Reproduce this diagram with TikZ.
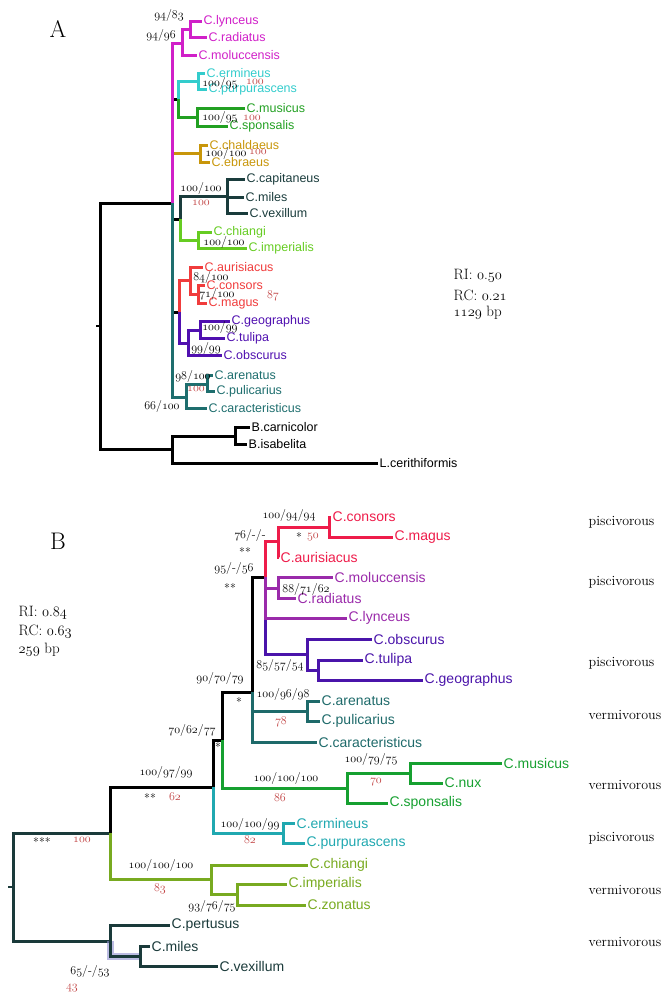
\documentclass[tikz,border=0pt]{standalone}
\usepackage{fontspec}
\newfontfamily\tipfont{Liberation Sans}
\usetikzlibrary{calc}
\definecolor{aMag}{HTML}{D020C8}
\definecolor{aCyan}{HTML}{33CCCC}
\definecolor{aGreen}{HTML}{22A022}
\definecolor{aGold}{HTML}{C8960A}
\definecolor{aSlate}{HTML}{1A3C3C}
\definecolor{aLime}{HTML}{66CC22}
\definecolor{aRed}{HTML}{F03C3C}
\definecolor{aPurp}{HTML}{5010B0}
\definecolor{aTeal}{HTML}{1E6E6E}
\definecolor{bRed}{HTML}{EE1C4A}
\definecolor{bMag}{HTML}{9A2AAA}
\definecolor{bInd}{HTML}{4A14AA}
\definecolor{bTeal}{HTML}{1E6A6A}
\definecolor{bGreen}{HTML}{16A030}
\definecolor{bCyan}{HTML}{20A8B0}
\definecolor{bOlive}{HTML}{78AA20}
\definecolor{bSlate}{HTML}{1A3A3A}
\definecolor{hilite}{HTML}{9090D0}
\definecolor{redNum}{HTML}{C04040}
\newcommand\osn[1]{{\usefont{OML}{cmm}{m}{it}#1}}

\begin{document}
\begin{tikzpicture}[x=1pt,y=-1pt,inner sep=1.5pt,
  br/.style={line width=3pt},
  tipA/.style={anchor=west,font=\tipfont\fontsize{12.5}{14}\selectfont},
  tipB/.style={anchor=west,font=\tipfont\fontsize{14}{16}\selectfont},
  bs/.style={font=\fontsize{12}{14}\selectfont},
  rn/.style={bs,text=redNum},
  diet/.style={anchor=west,font=\fontsize{14}{16}\selectfont},
  stat/.style={anchor=west,font=\fontsize{15}{17}\selectfont}]
\useasboundingbox (0,0) rectangle (667,999);

% ---------- panel A ----------
\node[font=\fontsize{24}{28}\selectfont] (lblA) at (58,29) {A};
\coordinate (rA) at (100,326);
\coordinate (rAt) at (96,326);
\coordinate (nI) at (172,203);
\coordinate (nO) at (172,449);
\coordinate (nMa) at (182,43);
\coordinate (nLR) at (190,29);
\coordinate (nCG) at (178,99);
\coordinate (nCy) at (198,81);
\coordinate (nGr) at (197,117);
\coordinate (nGo) at (200,153);
\coordinate (nSL) at (180,219);
\coordinate (nSl) at (227,196);
\coordinate (nLi) at (198,240);
\coordinate (nRP) at (179,312);
\coordinate (nRe) at (190,280);
\coordinate (nCM) at (198,294);
\coordinate (nPu) at (188,343);
\coordinate (nGT) at (200,330);
\coordinate (nTe) at (186,397);
\coordinate (nAP) at (207,384);
\coordinate (nB) at (235,436);

\node[tipA,aMag] (lync) at (202,21) {C.lynceus};
\node[tipA,aMag] (radi) at (207,37) {C.radiatus};
\node[tipA,aMag] (molu) at (197,55) {C.moluccensis};
\node[tipA,aCyan] (ermi) at (205,73) {C.ermineus};
\node[tipA,aCyan] (purp) at (207,89) {C.purpurascens};
\node[tipA,aGreen] (musi) at (245,108) {C.musicus};
\node[tipA,aGreen] (spon) at (228,126) {C.sponsalis};
\node[tipA,aGold] (chal) at (208,145) {C.chaldaeus};
\node[tipA,aGold] (ebra) at (210,162) {C.ebraeus};
\node[tipA,aSlate] (capi) at (245,179) {C.capitaneus};
\node[tipA,aSlate] (mile) at (244,197) {C.miles};
\node[tipA,aSlate] (vexi) at (248,213) {C.vexillum};
\node[tipA,aLime] (chia) at (212,232) {C.chiangi};
\node[tipA,aLime] (impe) at (247,248) {C.imperialis};
\node[tipA,aRed] (auri) at (203,267) {C.aurisiacus};
\node[tipA,aRed] (cons) at (205,285) {C.consors};
\node[tipA,aRed] (magu) at (207,303) {C.magus};
\node[tipA,aPurp] (geog) at (230,321) {C.geographus};
\node[tipA,aPurp] (tuli) at (225,338) {C.tulipa};
\node[tipA,aPurp] (obsc) at (222,355) {C.obscurus};
\node[tipA,aTeal] (aren) at (213,375) {C.arenatus};
\node[tipA,aTeal] (puli) at (215,391) {C.pulicarius};
\node[tipA,aTeal] (cara) at (207,408) {C.caracteristicus};
\node[tipA] (carn) at (250,427) {B.carnicolor};
\node[tipA] (isab) at (247,444) {B.isabelita};
\node[tipA] (ceri) at (378,463) {L.cerithiformis};

\draw[line width=1.5pt] (rA) -- (rAt);
\draw[br] (rA) |- (nI) (rA) |- (nO);
\draw[br] (nI) |- (nCG) (nI) |- (nSL) (nI) |- (nRP);
\draw[br,aGold] (nI) |- (nGo) (nGo) |- (chal.west) (nGo) |- (ebra.west);
\draw[br,aMag] (nI) |- (nMa) (nMa) |- (nLR) (nLR) |- (lync.west) (nLR) |- (radi.west) (nMa) |- (molu.west);
\draw[br,aTeal] (nI) |- (nTe) (nTe) |- (nAP) (nAP) |- (aren.west) (nAP) |- (puli.west) (nTe) |- (cara.west);
\draw[br,aCyan] (nCG) |- (nCy) (nCy) |- (ermi.west) (nCy) |- (purp.west);
\draw[br,aGreen] (nCG) |- (nGr) (nGr) |- (musi.west) (nGr) |- (spon.west);
\draw[br,aSlate] (nSL) |- (nSl) (nSl) |- (capi.west) (nSl) |- (mile.west) (nSl) |- (vexi.west);
\draw[br,aLime] (nSL) |- (nLi) (nLi) |- (chia.west) (nLi) |- (impe.west);
\draw[br,aRed] (nRP) |- (nRe) (nRe) |- (auri.west) (nRe) |- (nCM) (nCM) |- (cons.west) (nCM) |- (magu.west);
\draw[br,aPurp] (nRP) |- (nPu) (nPu) |- (nGT) (nGT) |- (geog.west) (nGT) |- (tuli.west) (nPu) |- (obsc.west);
\draw[br] (nO) |- (nB) (nB) |- (carn.west) (nB) |- (isab.west) (nO) |- (ceri.west);

% support values A
\node[bs] (bA1) at (169,15) {\osn{94}/\osn{83}};
\node[bs] (bA2) at (161,35) {\osn{94}/\osn{96}};
\node[bs] (bA3) at (220,83) {\osn{100}/\osn{95}};
\node[rn] (rA1) at (255,82) {\osn{100}};
\node[bs] (bA4) at (220,117) {\osn{100}/\osn{95}};
\node[rn] (rA2) at (252,118) {\osn{100}};
\node[bs] (bA5) at (226,153) {\osn{100}/\osn{100}};
\node[rn] (rA3) at (258,152) {\osn{100}};
\node[bs] (bA6) at (201,188) {\osn{100}/\osn{100}};
\node[rn] (rA4) at (201,203) {\osn{100}};
\node[bs] (bA7) at (224,242) {\osn{100}/\osn{100}};
\node[bs] (bA8) at (211,277) {\osn{84}/\osn{100}};
\node[bs] (bA9) at (217,294) {\osn{71}/\osn{100}};
\node[rn] (rA5) at (273,296) {\osn{87}};
\node[bs] (bA10) at (220,327) {\osn{100}/\osn{99}};
\node[bs] (bA11) at (206,348) {\osn{99}/\osn{99}};
\node[bs] (bA12) at (193,376) {\osn{98}/\osn{100}};
\node[rn] (rA6) at (196,389) {\osn{100}};
\node[bs] (bA13) at (162,406) {\osn{66}/\osn{100}};

\node[stat] (riA) at (452,276) {RI: \osn{0}.\osn{50}};
\node[stat] (rcA) at (452,295) {RC: \osn{0}.\osn{21}};
\node[stat] (bpA) at (452,313) {\osn{1129} bp};

% ---------- panel B ----------
\node[font=\fontsize{24}{28}\selectfont] (lblB) at (58,541) {B};
\coordinate (rB) at (13,887);
\coordinate (rBt) at (8,887);
\coordinate (nU) at (110,833);
\coordinate (nL) at (110,941);
\coordinate (nX) at (213,787);
\coordinate (nY) at (222,740);
\coordinate (nZ) at (252,692);
\coordinate (nT) at (265,577);
\coordinate (nR) at (278,541);
\coordinate (nCMb) at (329,527);
\coordinate (nMR) at (278,588);
\coordinate (nPub) at (307,654);
\coordinate (nTG) at (318,670);
\coordinate (nAPb) at (307,711);
\coordinate (nGrb) at (347,788);
\coordinate (nMN) at (410,773);
\coordinate (nCyb) at (283,833);
\coordinate (nLm) at (211,879);
\coordinate (nIZ) at (237,894);
\coordinate (nMV) at (140,956);

\node[tipB,bRed] (consB) at (331,517) {C.consors};
\node[tipB,bRed] (maguB) at (393,537) {C.magus};
\node[tipB,bRed] (auriB) at (279,557) {C.aurisiacus};
\node[tipB,bMag] (moluB) at (333,577) {C.moluccensis};
\node[tipB,bMag] (radiB) at (296,598) {C.radiatus};
\node[tipB,bMag] (lyncB) at (347,618) {C.lynceus};
\node[tipB,bInd] (obscB) at (372,639) {C.obscurus};
\node[tipB,bInd] (tuliB) at (363,660) {C.tulipa};
\node[tipB,bInd] (geogB) at (423,680) {C.geographus};
\node[tipB,bTeal] (arenB) at (320,701) {C.arenatus};
\node[tipB,bTeal] (puliB) at (320,721) {C.pulicarius};
\node[tipB,bTeal] (caraB) at (317,742) {C.caracteristicus};
\node[tipB,bGreen] (musiB) at (502,763) {C.musicus};
\node[tipB,bGreen] (nuxB) at (443,783) {C.nux};
\node[tipB,bGreen] (sponB) at (388,803) {C.sponsalis};
\node[tipB,bCyan] (ermiB) at (295,823) {C.ermineus};
\node[tipB,bCyan] (purpB) at (305,843) {C.purpurascens};
\node[tipB,bOlive] (chiaB) at (308,865) {C.chiangi};
\node[tipB,bOlive] (impeB) at (287,884) {C.imperialis};
\node[tipB,bOlive] (zonaB) at (306,905) {C.zonatus};
\node[tipB,bSlate] (pertB) at (170,925) {C.pertusus};
\node[tipB,bSlate] (mileB) at (150,946) {C.miles};
\node[tipB,bSlate] (vexiB) at (218,966) {C.vexillum};

\draw[line width=1.5pt,bSlate] (rB) -- (rBt);
\draw[br,bSlate] (rB) |- (nU) (rB) |- (nL);
\draw[br] (nU) |- (nX) (nX) |- (nY) (nY) |- (nZ) (nZ) |- (nT);
\draw[br,bOlive] (nU) |- (nLm) (nLm) |- (chiaB.west) (nLm) |- (nIZ) (nIZ) |- (impeB.west) (nIZ) |- (zonaB.west);
\draw[br,bCyan] (nX) |- (nCyb) (nCyb) |- (ermiB.west) (nCyb) |- (purpB.west);
\draw[br,bGreen] (nY) |- (nGrb) (nGrb) |- (nMN) (nMN) |- (musiB.west) (nMN) |- (nuxB.west) (nGrb) |- (sponB.west);
\draw[br,bTeal] (nZ) |- (nAPb) (nAPb) |- (arenB.west) (nAPb) |- (puliB.west) (nZ) |- (caraB.west);
\draw[br,bInd] (nT) |- (nPub) (nPub) |- (obscB.west) (nPub) |- (nTG) (nTG) |- (tuliB.west) (nTG) |- (geogB.west);
\draw[br,bMag] (nT) |- (lyncB.west) (nT) |- (nMR) (nMR) |- (moluB.west) (nMR) |- (radiB.west);
\draw[br,bRed] (nT) |- (nR) (nR) |- (nCMb) (nCMb) |- (consB.west) (nCMb) |- (maguB.west) (nR) |- (auriB.west);
\draw[line width=7pt,hilite,opacity=0.6] (nL) |- (nMV);
\draw[br,bSlate] (nL) |- (pertB.west) (nL) |- (nMV) (nMV) |- (mileB.west) (nMV) |- (vexiB.west);

% support values B
\node[bs] (bB1) at (289,515) {\osn{100}/\osn{94}/\osn{94}};
\node[bs] (sB1) at (299,537) {*};
\node[rn] (rB1) at (313,537) {\osn{50}};
\node[bs] (bB2) at (250,535) {\osn{76}/-/-};
\node[bs] (sB2) at (245,552) {**};
\node[bs] (bB3) at (234,568) {\osn{95}/-/\osn{56}};
\node[bs] (sB3) at (230,588) {**};
\node[bs] (bB4) at (306,589) {\osn{88}/\osn{71}/\osn{62}};
\node[bs] (bB5) at (280,665) {\osn{85}/\osn{57}/\osn{54}};
\node[bs] (bB6) at (220,678) {\osn{90}/\osn{70}/\osn{79}};
\node[bs] (bB7) at (283,694) {\osn{100}/\osn{96}/\osn{98}};
\node[rn] (rB2) at (281,722) {\osn{78}};
\node[bs] (sB4) at (239,702) {*};
\node[bs] (bB8) at (192,730) {\osn{70}/\osn{62}/\osn{77}};
\node[bs] (sB5) at (218,747) {*};
\node[bs] (bB9) at (371,759) {\osn{100}/\osn{79}/\osn{75}};
\node[rn] (rB3) at (376,782) {\osn{70}};
\node[bs] (bB10) at (286,778) {\osn{100}/\osn{100}/\osn{100}};
\node[rn] (rB4) at (280,798) {\osn{86}};
\node[bs] (bB11) at (166,772) {\osn{100}/\osn{97}/\osn{99}};
\node[bs] (sB6) at (150,798) {**};
\node[rn] (rB5) at (175,797) {\osn{62}};
\node[bs] (bB12) at (250,824) {\osn{100}/\osn{100}/\osn{99}};
\node[rn] (rB6) at (250,840) {\osn{82}};
\node[bs] (sB7) at (42,842) {***};
\node[rn] (rB7) at (82,840) {\osn{100}};
\node[bs] (bB13) at (161,865) {\osn{100}/\osn{100}/\osn{100}};
\node[rn] (rB8) at (160,889) {\osn{83}};
\node[bs] (bB14) at (212,906) {\osn{93}/\osn{76}/\osn{75}};
\node[bs] (bB15) at (90,971) {\osn{65}/-/\osn{53}};
\node[rn] (rB9) at (72,988) {\osn{43}};

\node[stat] (riB) at (17,613) {RI: \osn{0}.\osn{84}};
\node[stat] (rcB) at (17,632) {RC: \osn{0}.\osn{63}};
\node[stat] (bpB) at (17,650) {\osn{259} bp};

% diets
\node[diet] (d1) at (587,522) {piscivorous};
\node[diet] (d2) at (587,582) {piscivorous};
\node[diet] (d3) at (587,663) {piscivorous};
\node[diet] (d4) at (587,715) {vermivorous};
\node[diet] (d5) at (587,785) {vermivorous};
\node[diet] (d6) at (587,838) {piscivorous};
\node[diet] (d7) at (587,890) {vermivorous};
\node[diet] (d8) at (587,942) {vermivorous};
\end{tikzpicture}
\end{document}
